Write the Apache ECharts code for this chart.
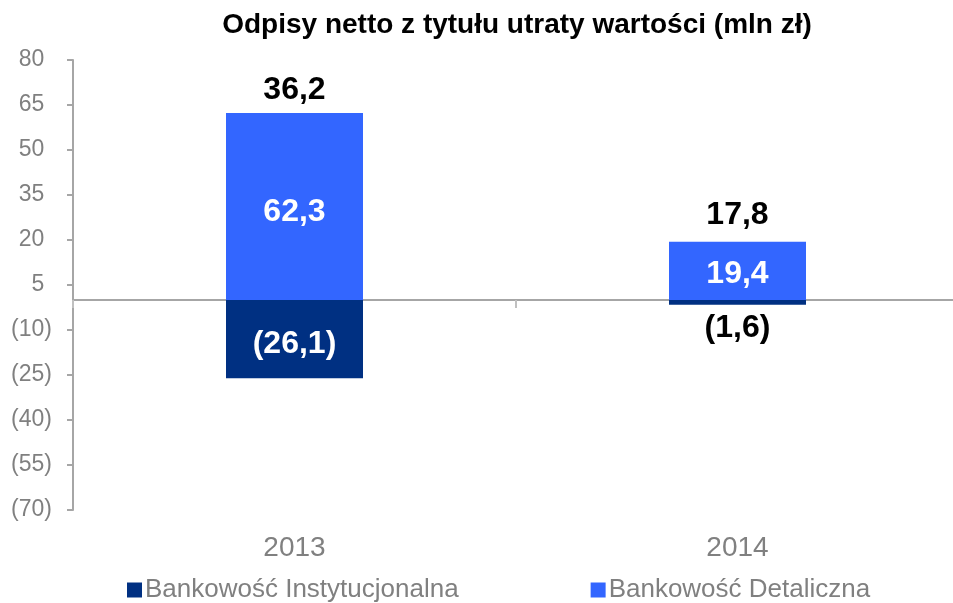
<!DOCTYPE html>
<html>
<head>
<meta charset="utf-8">
<script src="https://cdn.jsdelivr.net/npm/echarts@6/dist/echarts.min.js"></script>
<style>
  html, body { margin: 0; padding: 0; background: #fff; }
  #main { width: 953px; height: 603px; }
</style>
</head>
<body>
<div id="main"></div>
<script>
  // dane wykresu
  var years = ['2013', '2014'];
  var instytucjonalna = [-26.1, -1.6];
  var detaliczna = [62.3, 19.4];
  var razem = [36.2, 17.8];
  var yTicks = { min: -70, max: 80, interval: 15 };

  var fontFamily = '"Liberation Sans", Arial, sans-serif';

  function fmt(v) {
    var s = Math.abs(v).toFixed(1).replace('.', ',');
    return v < 0 ? '(' + s + ')' : s;
  }

  var myChart = echarts.init(document.getElementById('main'));

  var option = {
    animation: false,
    textStyle: { fontFamily: fontFamily },
    title: {
      text: 'Odpisy netto z tytułu utraty wartości (mln zł)',
      left: 512,
      textAlign: 'center',
      top: 6,
      textStyle: { fontSize: 28, fontWeight: 'bold', color: '#000', fontFamily: fontFamily }
    },
    grid: { left: 73, top: 60, width: 886, height: 450, outerBoundsMode: 'none' },
    legend: {
      data: ['Bankowość Instytucjonalna', 'Bankowość Detaliczna'],
      left: 127,
      top: 577,
      padding: 0,
      icon: 'rect',
      itemWidth: 15,
      itemHeight: 15,
      itemGap: 132,
      textStyle: { fontSize: 26, color: '#808080', fontFamily: fontFamily, padding: [0, 0, 0, -2] }
    },
    xAxis: [
      {
        type: 'category',
        data: years,
        axisLine: { onZero: true, lineStyle: { color: '#A6A6A6', width: 2 } },
        axisTick: { show: true, length: 8, lineStyle: { color: '#C0C0C0', width: 2 } },
        axisLabel: { show: false }
      },
      {
        type: 'category',
        data: years,
        position: 'bottom',
        axisLine: { show: false, onZero: false },
        axisTick: { show: false },
        axisLabel: { fontSize: 28, color: '#808080', margin: 24, fontFamily: fontFamily }
      }
    ],
    yAxis: {
      type: 'value',
      min: yTicks.min,
      max: yTicks.max,
      interval: yTicks.interval,
      splitLine: { show: false },
      axisLine: { show: true, lineStyle: { color: '#A6A6A6', width: 2 } },
      axisTick: { show: true, length: 6, lineStyle: { color: '#A6A6A6', width: 2 } },
      axisLabel: {
        fontSize: 23,
        color: '#808080',
        margin: 21,
        fontFamily: fontFamily,
        // niewidoczny nawias, żeby cyfry były wyrównane jak w Excelu
        formatter: function (v) { return v < 0 ? '(' + (-v) + ')' : v + '{h|)}'; },
        rich: { h: { color: 'transparent', fontSize: 23, fontFamily: fontFamily } }
      }
    },
    series: [
      {
        name: 'Bankowość Instytucjonalna',
        type: 'bar',
        stack: 'a',
        barWidth: 137,
        itemStyle: { color: '#003082' },
        data: instytucjonalna.map(function (v, i) {
          var item = { value: v };
          if (i === 1) {
            item.label = { position: 'bottom', color: '#000', distance: 7, offset: [0, 0] };
          }
          return item;
        }),
        label: {
          show: true,
          position: 'inside',
          offset: [0, 5],
          color: '#fff',
          fontSize: 32,
          fontWeight: 'bold',
          fontFamily: fontFamily,
          formatter: function (p) { return fmt(p.value); }
        }
      },
      {
        name: 'Bankowość Detaliczna',
        type: 'bar',
        stack: 'a',
        barWidth: 137,
        itemStyle: { color: '#3366FF' },
        data: detaliczna.map(function (v, i) {
          return { value: v, label: { offset: [0, i === 0 ? 6 : 3] } };
        }),
        label: {
          show: true,
          position: 'inside',
          color: '#fff',
          fontSize: 32,
          fontWeight: 'bold',
          fontFamily: fontFamily,
          formatter: function (p) { return fmt(p.value); }
        }
      },
      {
        // etykiety sumy nad słupkami
        name: 'Razem',
        type: 'scatter',
        symbolSize: 0,
        silent: true,
        itemStyle: { opacity: 1 },
        data: detaliczna.map(function (v, i) {
          return { value: v, label: { distance: i === 0 ? 7 : 11 } };
        }),
        label: {
          show: true,
          position: 'top',
          color: '#000',
          fontSize: 32,
          fontWeight: 'bold',
          fontFamily: fontFamily,
          formatter: function (p) { return fmt(razem[p.dataIndex]); }
        }
      }
    ]
  };

  myChart.setOption(option);
</script>
</body>
</html>
